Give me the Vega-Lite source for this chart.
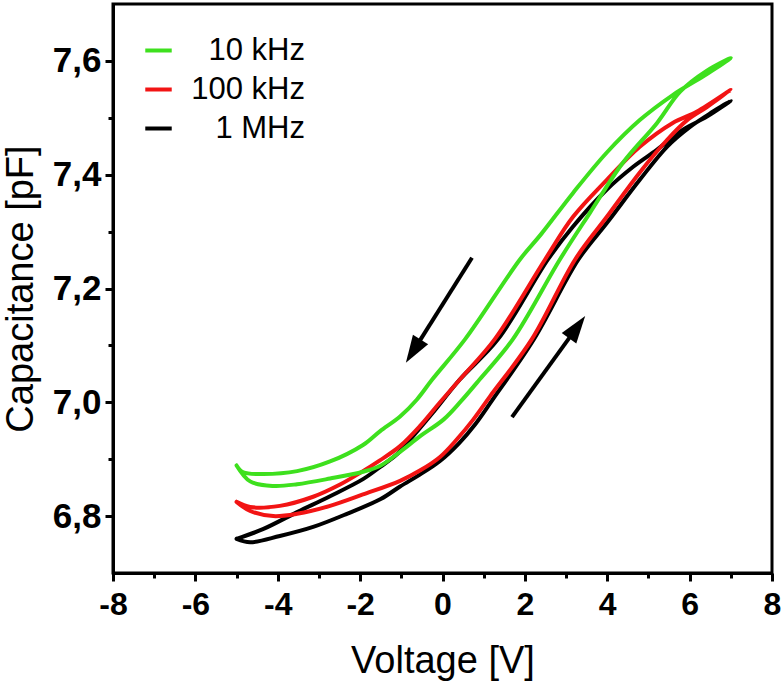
{
  "$schema": "https://vega.github.io/schema/vega-lite/v6.json",
  "width": 659,
  "height": 569,
  "autosize": {"type": "none"},
  "padding": {"left": 113, "top": 4, "right": 12, "bottom": 113},
  "background": "white",
  "config": {"view": {"stroke": "black", "strokeWidth": 3}, "font": "Liberation Sans"},
  "datasets": {
    "curves": [
      {"series": "1 MHz", "i": 0, "V": -5.0, "C": 6.760},
      {"series": "1 MHz", "i": 1, "V": -4.67, "C": 6.754},
      {"series": "1 MHz", "i": 2, "V": -3.95, "C": 6.765},
      {"series": "1 MHz", "i": 3, "V": -3.14, "C": 6.781},
      {"series": "1 MHz", "i": 4, "V": -2.32, "C": 6.804},
      {"series": "1 MHz", "i": 5, "V": -1.5, "C": 6.830},
      {"series": "1 MHz", "i": 6, "V": -1.03, "C": 6.852},
      {"series": "1 MHz", "i": 7, "V": -0.55, "C": 6.873},
      {"series": "1 MHz", "i": 8, "V": -0.06, "C": 6.897},
      {"series": "1 MHz", "i": 9, "V": 0.4, "C": 6.928},
      {"series": "1 MHz", "i": 10, "V": 0.8, "C": 6.962},
      {"series": "1 MHz", "i": 11, "V": 1.2, "C": 7.003},
      {"series": "1 MHz", "i": 12, "V": 2.22, "C": 7.111},
      {"series": "1 MHz", "i": 13, "V": 3.3, "C": 7.251},
      {"series": "1 MHz", "i": 14, "V": 3.99, "C": 7.315},
      {"series": "1 MHz", "i": 15, "V": 4.79, "C": 7.391},
      {"series": "1 MHz", "i": 16, "V": 5.45, "C": 7.449},
      {"series": "1 MHz", "i": 17, "V": 6.01, "C": 7.484},
      {"series": "1 MHz", "i": 18, "V": 6.57, "C": 7.511},
      {"series": "1 MHz", "i": 19, "V": 7.0, "C": 7.530},
      {"series": "1 MHz", "i": 20, "V": 6.42, "C": 7.502},
      {"series": "1 MHz", "i": 21, "V": 5.84, "C": 7.479},
      {"series": "1 MHz", "i": 22, "V": 5.21, "C": 7.444},
      {"series": "1 MHz", "i": 23, "V": 4.63, "C": 7.414},
      {"series": "1 MHz", "i": 24, "V": 3.99, "C": 7.374},
      {"series": "1 MHz", "i": 25, "V": 3.17, "C": 7.309},
      {"series": "1 MHz", "i": 26, "V": 2.56, "C": 7.251},
      {"series": "1 MHz", "i": 27, "V": 1.35, "C": 7.111},
      {"series": "1 MHz", "i": 28, "V": 0.42, "C": 7.040},
      {"series": "1 MHz", "i": 29, "V": -0.23, "C": 6.982},
      {"series": "1 MHz", "i": 30, "V": -0.72, "C": 6.940},
      {"series": "1 MHz", "i": 31, "V": -1.10, "C": 6.909},
      {"series": "1 MHz", "i": 32, "V": -1.52, "C": 6.886},
      {"series": "1 MHz", "i": 33, "V": -1.93, "C": 6.865},
      {"series": "1 MHz", "i": 34, "V": -2.73, "C": 6.835},
      {"series": "1 MHz", "i": 35, "V": -3.53, "C": 6.807},
      {"series": "1 MHz", "i": 36, "V": -4.36, "C": 6.777},
      {"series": "1 MHz", "i": 37, "V": -5.0, "C": 6.760},

      {"series": "100 kHz", "i": 0, "V": -5.0, "C": 6.825},
      {"series": "100 kHz", "i": 1, "V": -4.67, "C": 6.809},
      {"series": "100 kHz", "i": 2, "V": -4.11, "C": 6.800},
      {"series": "100 kHz", "i": 3, "V": -3.53, "C": 6.804},
      {"series": "100 kHz", "i": 4, "V": -2.73, "C": 6.818},
      {"series": "100 kHz", "i": 5, "V": -1.93, "C": 6.838},
      {"series": "100 kHz", "i": 6, "V": -1.03, "C": 6.862},
      {"series": "100 kHz", "i": 7, "V": -0.55, "C": 6.880},
      {"series": "100 kHz", "i": 8, "V": -0.06, "C": 6.904},
      {"series": "100 kHz", "i": 9, "V": 0.35, "C": 6.935},
      {"series": "100 kHz", "i": 10, "V": 0.75, "C": 6.970},
      {"series": "100 kHz", "i": 11, "V": 1.15, "C": 7.010},
      {"series": "100 kHz", "i": 12, "V": 2.17, "C": 7.111},
      {"series": "100 kHz", "i": 13, "V": 3.22, "C": 7.251},
      {"series": "100 kHz", "i": 14, "V": 3.99, "C": 7.326},
      {"series": "100 kHz", "i": 15, "V": 4.79, "C": 7.404},
      {"series": "100 kHz", "i": 16, "V": 5.45, "C": 7.461},
      {"series": "100 kHz", "i": 17, "V": 5.94, "C": 7.496},
      {"series": "100 kHz", "i": 18, "V": 6.42, "C": 7.519},
      {"series": "100 kHz", "i": 19, "V": 7.0, "C": 7.549},
      {"series": "100 kHz", "i": 20, "V": 6.18, "C": 7.511},
      {"series": "100 kHz", "i": 21, "V": 5.59, "C": 7.491},
      {"series": "100 kHz", "i": 22, "V": 4.79, "C": 7.449},
      {"series": "100 kHz", "i": 23, "V": 3.99, "C": 7.391},
      {"series": "100 kHz", "i": 24, "V": 3.17, "C": 7.326},
      {"series": "100 kHz", "i": 25, "V": 2.49, "C": 7.251},
      {"series": "100 kHz", "i": 26, "V": 1.27, "C": 7.111},
      {"series": "100 kHz", "i": 27, "V": 0.42, "C": 7.040},
      {"series": "100 kHz", "i": 28, "V": -0.06, "C": 7.000},
      {"series": "100 kHz", "i": 29, "V": -0.55, "C": 6.958},
      {"series": "100 kHz", "i": 30, "V": -1.03, "C": 6.923},
      {"series": "100 kHz", "i": 31, "V": -1.52, "C": 6.898},
      {"series": "100 kHz", "i": 32, "V": -2.0, "C": 6.876},
      {"series": "100 kHz", "i": 33, "V": -2.5, "C": 6.855},
      {"series": "100 kHz", "i": 34, "V": -3.14, "C": 6.834},
      {"series": "100 kHz", "i": 35, "V": -3.95, "C": 6.818},
      {"series": "100 kHz", "i": 36, "V": -4.67, "C": 6.816},
      {"series": "100 kHz", "i": 37, "V": -5.0, "C": 6.825},

      {"series": "10 kHz", "i": 0, "V": -5.0, "C": 6.889},
      {"series": "10 kHz", "i": 1, "V": -4.67, "C": 6.861},
      {"series": "10 kHz", "i": 2, "V": -4.11, "C": 6.853},
      {"series": "10 kHz", "i": 3, "V": -3.53, "C": 6.856},
      {"series": "10 kHz", "i": 4, "V": -2.73, "C": 6.866},
      {"series": "10 kHz", "i": 5, "V": -1.93, "C": 6.878},
      {"series": "10 kHz", "i": 6, "V": -1.52, "C": 6.888},
      {"series": "10 kHz", "i": 7, "V": -1.03, "C": 6.913},
      {"series": "10 kHz", "i": 8, "V": -0.55, "C": 6.940},
      {"series": "10 kHz", "i": 9, "V": 0.03, "C": 6.970},
      {"series": "10 kHz", "i": 10, "V": 0.45, "C": 7.002},
      {"series": "10 kHz", "i": 11, "V": 0.9, "C": 7.040},
      {"series": "10 kHz", "i": 12, "V": 1.71, "C": 7.111},
      {"series": "10 kHz", "i": 13, "V": 2.85, "C": 7.251},
      {"series": "10 kHz", "i": 14, "V": 3.58, "C": 7.333},
      {"series": "10 kHz", "i": 15, "V": 4.38, "C": 7.421},
      {"series": "10 kHz", "i": 16, "V": 5.21, "C": 7.491},
      {"series": "10 kHz", "i": 17, "V": 5.77, "C": 7.546},
      {"series": "10 kHz", "i": 18, "V": 6.42, "C": 7.583},
      {"series": "10 kHz", "i": 19, "V": 7.0, "C": 7.605},
      {"series": "10 kHz", "i": 20, "V": 6.42, "C": 7.577},
      {"series": "10 kHz", "i": 21, "V": 5.59, "C": 7.540},
      {"series": "10 kHz", "i": 22, "V": 4.79, "C": 7.496},
      {"series": "10 kHz", "i": 23, "V": 3.99, "C": 7.439},
      {"series": "10 kHz", "i": 24, "V": 3.17, "C": 7.368},
      {"series": "10 kHz", "i": 25, "V": 2.4, "C": 7.296},
      {"series": "10 kHz", "i": 26, "V": 1.88, "C": 7.251},
      {"series": "10 kHz", "i": 27, "V": 0.55, "C": 7.111},
      {"series": "10 kHz", "i": 28, "V": -0.25, "C": 7.040},
      {"series": "10 kHz", "i": 29, "V": -0.62, "C": 7.005},
      {"series": "10 kHz", "i": 30, "V": -1.03, "C": 6.975},
      {"series": "10 kHz", "i": 31, "V": -1.52, "C": 6.949},
      {"series": "10 kHz", "i": 32, "V": -1.93, "C": 6.925},
      {"series": "10 kHz", "i": 33, "V": -2.73, "C": 6.896},
      {"series": "10 kHz", "i": 34, "V": -3.53, "C": 6.879},
      {"series": "10 kHz", "i": 35, "V": -4.36, "C": 6.874},
      {"series": "10 kHz", "i": 36, "V": -4.84, "C": 6.877},
      {"series": "10 kHz", "i": 37, "V": -5.0, "C": 6.889}
    ],
    "arrows": [
      {"dir": "down", "V": 0.716, "C": 7.254, "V2": -0.711, "C2": 7.090},
      {"dir": "up", "V": 1.687, "C": 6.974, "V2": 3.268, "C2": 7.132}
    ]
  },
  "layer": [
    {
      "data": {"name": "curves"},
      "mark": {"type": "line", "strokeWidth": 4, "strokeCap": "round", "strokeJoin": "round", "interpolate": "catmull-rom"},
      "encoding": {
        "x": {
          "field": "V", "type": "quantitative",
          "scale": {"domain": [-8, 8], "nice": false, "zero": false},
          "axis": {
            "values": [-8, -7, -6, -5, -4, -3, -2, -1, 0, 1, 2, 3, 4, 5, 6, 7, 8],
            "title": "Voltage [V]",
            "grid": false,
            "domainColor": "black", "domainWidth": 3,
            "tickColor": "black", "tickWidth": 3,
            "tickSize": {"condition": {"test": "datum.value % 2 == 0", "value": 8}, "value": 5},
            "labelExpr": "datum.value % 2 == 0 ? '' + datum.value : ''",
            "labelFont": "Liberation Sans", "labelFontSize": 32, "labelFontWeight": "bold", "labelColor": "black",
            "labelPadding": 8, "labelFlush": false, "labelOverlap": false,
            "titleFont": "Liberation Sans", "titleFontSize": 38, "titleFontWeight": "normal", "titleColor": "black",
            "titlePadding": 22
          }
        },
        "y": {
          "field": "C", "type": "quantitative",
          "scale": {"domain": [6.7, 7.7], "nice": false, "zero": false},
          "axis": {
            "values": [6.8, 6.9, 7.0, 7.1, 7.2, 7.3, 7.4, 7.5, 7.6],
            "title": "Capacitance [pF]",
            "grid": false,
            "domainColor": "black", "domainWidth": 3,
            "tickColor": "black", "tickWidth": 3,
            "tickSize": {"condition": {"test": "round(datum.value * 10) % 2 == 0", "value": 8}, "value": 5},
            "labelExpr": "round(datum.value * 10) % 2 == 0 ? replace(format(datum.value, '.1f'), '.', ',') : ''",
            "labelFont": "Liberation Sans", "labelFontSize": 35, "labelFontWeight": "bold", "labelColor": "black",
            "labelPadding": 4, "labelFlush": false, "labelOverlap": false,
            "titleFont": "Liberation Sans", "titleFontSize": 38, "titleFontWeight": "normal", "titleColor": "black",
            "titlePadding": 12
          }
        },
        "color": {
          "field": "series", "type": "nominal",
          "scale": {"domain": ["10 kHz", "100 kHz", "1 MHz"], "range": ["#3ee01e", "#f21414", "#000000"]},
          "legend": {
            "orient": "none", "legendX": 30, "legendY": 31, "title": null,
            "symbolType": "stroke", "symbolStrokeWidth": 4, "symbolSize": 700,
            "labelFont": "Liberation Sans", "labelFontSize": 31, "labelColor": "black",
            "labelAlign": "right", "labelOffset": 131, "rowPadding": 7, "padding": 0
          }
        },
        "order": {"field": "i", "type": "quantitative"}
      }
    },
    {
      "data": {"name": "arrows"},
      "mark": {"type": "rule", "strokeWidth": 4, "color": "black"},
      "encoding": {
        "x": {"field": "V", "type": "quantitative"},
        "y": {"field": "C", "type": "quantitative"},
        "x2": {"field": "V2"},
        "y2": {"field": "C2"}
      }
    },
    {
      "data": {"name": "arrows"},
      "transform": [{"filter": "datum.dir == 'down'"}],
      "mark": {"type": "point", "shape": "M0,-1L0.65,1L-0.65,1Z", "filled": true, "color": "black", "opacity": 1, "size": 760, "angle": 212.1},
      "encoding": {
        "x": {"field": "V2", "type": "quantitative"},
        "y": {"field": "C2", "type": "quantitative"}
      }
    },
    {
      "data": {"name": "arrows"},
      "transform": [{"filter": "datum.dir == 'up'"}],
      "mark": {"type": "point", "shape": "M0,-1L0.65,1L-0.65,1Z", "filled": true, "color": "black", "opacity": 1, "size": 760, "angle": 35.9},
      "encoding": {
        "x": {"field": "V2", "type": "quantitative"},
        "y": {"field": "C2", "type": "quantitative"}
      }
    }
  ]
}
